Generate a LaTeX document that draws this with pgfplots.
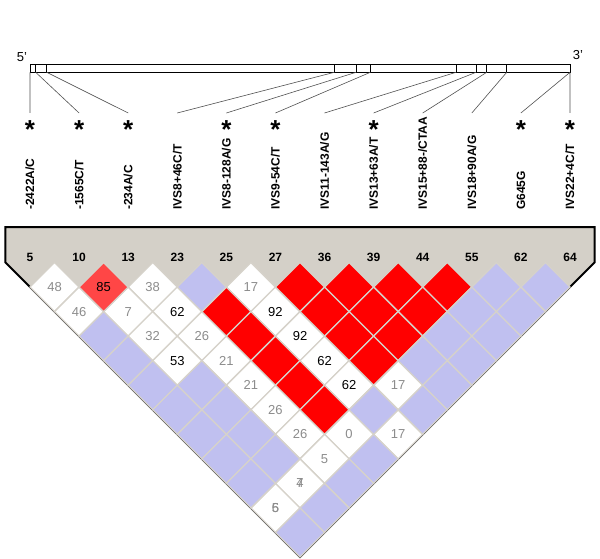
\documentclass[border=0pt]{standalone}
\usepackage{pgfplots}
\pgfplotsset{compat=1.18}
\usepackage{fontspec}
\setmainfont{Liberation Sans}
\definecolor{bandgray}{RGB}{212,208,200}
\definecolor{ldblue}{RGB}{192,192,240}
\definecolor{ldred}{RGB}{255,0,0}
\definecolor{ldlight}{RGB}{255,70,70}
\definecolor{gridcol}{RGB}{214,210,202}
\definecolor{txtgray}{RGB}{140,140,140}
\definecolor{linegray}{RGB}{80,80,80}
\begin{document}
\begin{tikzpicture}
\begin{axis}[width=600pt, height=558pt, scale only axis, hide axis,
  xmin=-0.61111, xmax=11.61111, ymin=-10.6944, ymax=12.0389, y dir=reverse,
  clip=false]
% gray band
\addplot[fill=bandgray, draw=none] coordinates {(-0.5,-1.4463) (11.5,-1.4463) (11.5,0) (5.5,12) (-0.5,0)} --cycle;
% cells
\pgfplotsset{cell/.style={only marks, mark=square*, mark size=17.356pt,
  mark options={rotate=45, draw=gridcol, line width=1.3pt, fill=#1}}}
\addplot[cell=white] coordinates {(0.5,1) (2.5,1) (4.5,1) (1,2) (2,2) (3,2) (5,2) (2.5,3) (3.5,3) (5.5,3) (3,4) (4,4) (6,4) (4.5,5) (6.5,5) (7.5,5) (5,6) (5.5,7) (6.5,7) (7.5,7) (6,8) (5.5,9) (5,10)};
\addplot[cell=ldlight] coordinates {(1.5,1)};
\addplot[cell=ldred] coordinates {(5.5,1) (6.5,1) (7.5,1) (8.5,1) (4,2) (6,2) (7,2) (8,2) (4.5,3) (6.5,3) (7.5,3) (5,4) (7,4) (5.5,5) (6,6)};
\addplot[cell=ldblue] coordinates {(3.5,1) (9.5,1) (10.5,1) (9,2) (10,2) (1.5,3) (8.5,3) (9.5,3) (2,4) (8,4) (9,4) (2.5,5) (3.5,5) (8.5,5) (3,6) (4,6) (7,6) (8,6) (3.5,7) (4.5,7) (4,8) (5,8) (7,8) (4.5,9) (6.5,9) (6,10) (5.5,11)};
% cell labels
\pgfplotsset{lab/.style={draw=none, mark=none, nodes near coords, point meta=explicit symbolic,
  nodes near coords align={anchor=center},
  every node near coord/.append style={anchor=center, inner sep=0pt, text=#1, font=\fontsize{13}{13}\selectfont}}}
\addplot[lab=txtgray] coordinates {(0.5,1)[48] (2.5,1)[38] (4.5,1)[17] (1,2)[46] (2,2)[7] (2.5,3)[32] (3.5,3)[26] (4,4)[21] (4.5,5)[21] (7.5,5)[17] (5,6)[26] (5.5,7)[26] (6.5,7)[0] (7.5,7)[17] (6,8)[5] (5.5,9)[4] (5.5,9)[7] (5,10)[5] (5,10)[6]};
\addplot[lab=black] coordinates {(1.5,1)[85] (3,2)[62] (5,2)[92] (5.5,3)[92] (3,4)[53] (6,4)[62] (6.5,5)[62]};
% marker indices
\addplot[draw=none, mark=none, nodes near coords, point meta=explicit symbolic,
  nodes near coords align={anchor=center},
  every node near coord/.append style={anchor=center, inner sep=0pt, font=\fontsize{12}{12}\selectfont\bfseries}]
  coordinates {(0,-0.224)[5] (1,-0.224)[10] (2,-0.224)[13] (3,-0.224)[23] (4,-0.224)[25] (5,-0.224)[27] (6,-0.224)[36] (7,-0.224)[39] (8,-0.224)[44] (9,-0.224)[55] (10,-0.224)[62] (11,-0.224)[64]};
% SNP names
\addplot[draw=none, mark=none, nodes near coords, point meta=explicit symbolic,
  nodes near coords align={anchor=west},
  every node near coord/.append style={anchor=west, rotate=90, inner sep=0pt, font=\fontsize{12}{12}\selectfont\bfseries}]
  coordinates {(0,-2.139)[-2422A/C] (1,-2.139)[-1565C/T] (2,-2.139)[-234A/C] (3,-2.139)[IVS8+46C/T] (4,-2.139)[IVS8-128A/G] (5,-2.139)[IVS9-54C/T] (6,-2.139)[IVS11-143A/G] (7,-2.139)[IVS13+63A/T] (8,-2.139)[IVS15+88-/CTAA] (9,-2.139)[IVS18+90A/G] (10,-2.139)[G645G] (11,-2.139)[IVS22+4C/T]};
% stars
\addplot[draw=none, mark=none, nodes near coords, point meta=explicit symbolic,
  nodes near coords align={anchor=base},
  every node near coord/.append style={anchor=base, inner sep=0pt, font=\fontsize{26}{26}\selectfont\bfseries}]
  coordinates {(0,-5.06)[*] (1,-5.06)[*] (2,-5.06)[*] (4,-5.06)[*] (5,-5.06)[*] (7,-5.06)[*] (10,-5.06)[*] (11,-5.06)[*]};
% gene bar
\addplot[black, line width=0.9pt] coordinates {(0,-8.087) (11,-8.087) (11,-7.749) (0,-7.749)} --cycle;
\addplot[black, line width=0.9pt, unbounded coords=jump] coordinates {
 (0.1161,-8.087) (0.1161,-7.749) (nan,nan)
 (0.3402,-8.087) (0.3402,-7.749) (nan,nan)
 (6.199,-8.087) (6.199,-7.749) (nan,nan)
 (6.641,-8.087) (6.641,-7.749) (nan,nan)
 (6.932,-8.087) (6.932,-7.749) (nan,nan)
 (8.678,-8.087) (8.678,-7.749) (nan,nan)
 (9.085,-8.087) (9.085,-7.749) (nan,nan)
 (9.303,-8.087) (9.303,-7.749) (nan,nan)
 (9.711,-8.087) (9.711,-7.749)};
% connectors
\addplot[linegray, line width=0.6pt, unbounded coords=jump] coordinates {
 (0,-7.749) (0,-6.091) (nan,nan)
 (0.1161,-7.749) (1,-6.091) (nan,nan)
 (0.3402,-7.749) (2,-6.091) (nan,nan)
 (6.199,-7.749) (3,-6.091) (nan,nan)
 (6.641,-7.749) (4,-6.091) (nan,nan)
 (6.932,-7.749) (5,-6.091) (nan,nan)
 (8.678,-7.749) (6,-6.091) (nan,nan)
 (9.085,-7.749) (7,-6.091) (nan,nan)
 (9.303,-7.749) (8,-6.091) (nan,nan)
 (9.711,-7.749) (9,-6.091) (nan,nan)
 (11,-7.749) (10,-6.091) (nan,nan)
 (11,-7.749) (11,-6.091)};
% 5' 3'
\node[font=\fontsize{13}{13}\selectfont, inner sep=0pt] at (axis cs:-0.163,-8.371) {5'};
\node[font=\fontsize{13}{13}\selectfont, inner sep=0pt] at (axis cs:11.163,-8.452) {3'};
% outline
\addplot[black, line width=2pt, line join=miter] coordinates {(-0.5,-1.4463) (11.5,-1.4463) (11.5,0) (5.5,12) (-0.5,0)} --cycle;
\end{axis}
\pgfresetboundingbox
\useasboundingbox (0,0) rectangle (600pt,558pt);
\end{tikzpicture}
\end{document}
